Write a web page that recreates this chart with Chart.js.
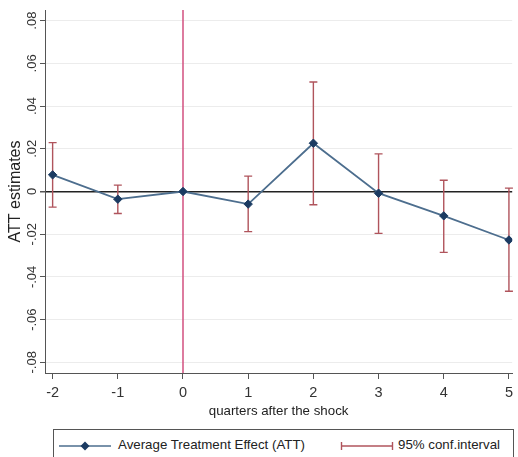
<!DOCTYPE html>
<html><head><meta charset="utf-8">
<script src="https://cdn.jsdelivr.net/npm/chart.js@4.4.0/dist/chart.umd.min.js"></script>
<style>
html,body{margin:0;padding:0;background:#fff;width:518px;height:457px;overflow:hidden;}
#wrap{position:relative;width:518px;height:457px;}
#c{position:absolute;left:0;top:0;}
#legend{position:absolute;left:53px;top:429px;width:461px;height:40px;border:1px solid #555;box-sizing:border-box;background:#fff;font-family:"Liberation Sans",Arial,sans-serif;font-size:13.3px;color:#222;}
#legend span{position:absolute;top:7px;white-space:nowrap;}
#legend svg{position:absolute;top:9px;}
</style></head>
<body>
<div id="wrap">
<canvas id="c" width="518" height="457"></canvas>
<div id="legend">
  <svg style="left:4px" width="54" height="14"><line x1="1" y1="7" x2="53" y2="7" stroke="#4d6e8e" stroke-width="1.6"/><polygon points="27,2.5 31.5,7 27,11.5 22.5,7" fill="#1b3b62"/></svg>
  <span style="left:64px">Average Treatment Effect (ATT)</span>
  <svg style="left:286px" width="54" height="14"><line x1="1" y1="7" x2="53" y2="7" stroke="#b0545c" stroke-width="1.4"/><line x1="1.5" y1="3" x2="1.5" y2="11" stroke="#b0545c" stroke-width="1.4"/><line x1="52.5" y1="3" x2="52.5" y2="11" stroke="#b0545c" stroke-width="1.4"/></svg>
  <span style="left:344px">95% conf.interval</span>
</div>
</div>
<script>
const quarters = [-2, -1, 0, 1, 2, 3, 4, 5];
const att = [0.0078, -0.0036, 0, -0.0059, 0.0226, -0.0008, -0.0114, -0.0227];
const ciLow = [-0.0073, -0.0103, null, -0.0188, -0.0062, -0.0196, -0.0285, -0.0467];
const ciHigh = [0.0229, 0.0030, null, 0.0072, 0.0513, 0.0176, 0.0053, 0.0016];
const yTickValues = [-0.08, -0.06, -0.04, -0.02, 0, 0.02, 0.04, 0.06, 0.08];
const yTickLabels = ['-.08', '-.06', '-.04', '-.02', '0', '.02', '.04', '.06', '.08'];
const xTickLabels = ['-2', '-1', '0', '1', '2', '3', '4', '5'];
const shockQuarter = 0;

const FONT = '"Liberation Sans", Arial, sans-serif';
const CI_COLOR = '#b0545c';

const overlay = {
  id: 'overlay',
  beforeDatasetsDraw(chart) {
    const {ctx, chartArea, scales: {x, y}} = chart;
    ctx.save();
    const vx = x.getPixelForValue(shockQuarter);
    ctx.strokeStyle = '#d2507f';
    ctx.lineWidth = 1.5;
    ctx.beginPath();
    ctx.moveTo(vx, chartArea.top);
    ctx.lineTo(vx, chartArea.bottom);
    ctx.stroke();
    ctx.strokeStyle = CI_COLOR;
    ctx.lineWidth = 1.4;
    quarters.forEach((q, i) => {
      if (ciLow[i] === null) return;
      const px = x.getPixelForValue(q);
      const p1 = y.getPixelForValue(ciLow[i]);
      const p2 = y.getPixelForValue(ciHigh[i]);
      ctx.beginPath();
      ctx.moveTo(px, p1); ctx.lineTo(px, p2);
      ctx.moveTo(px - 4, p1); ctx.lineTo(px + 4, p1);
      ctx.moveTo(px - 4, p2); ctx.lineTo(px + 4, p2);
      ctx.stroke();
    });
    ctx.restore();
  },
  afterDraw(chart) {
    const {ctx, scales: {y}} = chart;
    ctx.save();
    ctx.fillStyle = '#333';
    ctx.font = '13px ' + FONT;
    ctx.textAlign = 'center';
    ctx.textBaseline = 'middle';
    yTickValues.forEach((v, i) => {
      const py = y.getPixelForValue(v);
      ctx.save();
      ctx.translate(32, py);
      ctx.rotate(-Math.PI / 2);
      ctx.fillText(yTickLabels[i], 0, 0);
      ctx.restore();
    });
    ctx.restore();
  }
};

new Chart(document.getElementById('c'), {
  type: 'line',
  data: {
    datasets: [{
      label: 'Average Treatment Effect (ATT)',
      data: quarters.map((q, i) => ({x: q, y: att[i]})),
      borderColor: '#4d6e8e',
      borderWidth: 1.8,
      pointStyle: 'rectRot',
      pointRadius: 4.2,
      pointBackgroundColor: '#1b3b62',
      pointBorderColor: '#1b3b62',
      pointBorderWidth: 1,
      tension: 0,
      fill: false
    }]
  },
  options: {
    responsive: false,
    animation: false,
    devicePixelRatio: 1,
    layout: {padding: {top: 10, right: 2, bottom: 32, left: 0}},
    plugins: {legend: {display: false}, tooltip: {enabled: false}},
    scales: {
      x: {
        type: 'linear',
        min: -2.117,
        max: 5.05,
        afterBuildTicks(s) { s.ticks = quarters.map(v => ({value: v})); },
        afterFit(s) { s.height = 52; },
        ticks: {
          color: '#333',
          font: {family: FONT, size: 14.5},
          padding: 5,
          callback: (v, i) => xTickLabels[i]
        },
        grid: {drawOnChartArea: false, drawTicks: true, tickLength: 6, color: '#555'},
        border: {color: '#555', width: 1},
        title: {display: true, text: 'quarters after the shock', color: '#222', font: {family: FONT, size: 13.3}, padding: {top: 0, bottom: 6}}
      },
      y: {
        type: 'linear',
        min: -0.085,
        max: 0.085,
        afterBuildTicks(s) { s.ticks = yTickValues.map(v => ({value: v})); },
        afterFit(s) { s.width = 45; },
        ticks: {display: false},
        grid: {
          color: ctx => (ctx.tick && Math.abs(ctx.tick.value) < 1e-9) ? '#222' : '#ececec',
          lineWidth: ctx => (ctx.tick && Math.abs(ctx.tick.value) < 1e-9) ? 1.5 : 1,
          tickColor: '#555',
          drawTicks: true,
          tickLength: 5
        },
        border: {color: '#555', width: 1},
        title: {display: true, text: 'ATT estimates', color: '#222', font: {family: FONT, size: 16}, padding: {top: 6, bottom: 0}}
      }
    }
  },
  plugins: [overlay]
});
</script>
</body></html>
